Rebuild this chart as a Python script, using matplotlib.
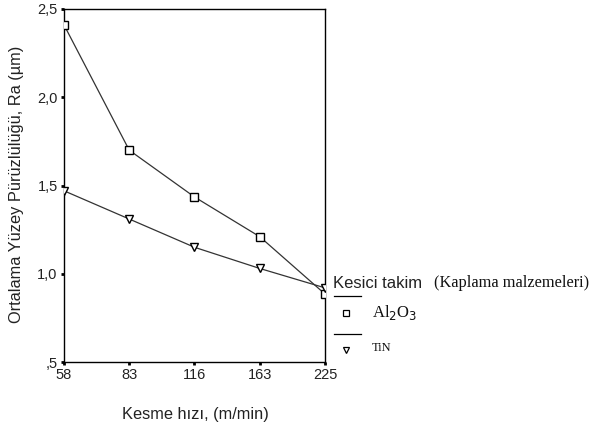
import matplotlib
matplotlib.use("Agg")
import matplotlib.pyplot as plt
from matplotlib.lines import Line2D

speeds = ["58", "83", "116", "163", "225"]
al2o3 = [2.41, 1.70, 1.435, 1.21, 0.885]
tin = [1.47, 1.31, 1.15, 1.03, 0.92]
yticks = [0.5, 1.0, 1.5, 2.0, 2.5]
ytick_labels = [",5", "1,0", "1,5", "2,0", "2,5"]

plt.rcParams['font.family'] = ['Liberation Sans', 'DejaVu Sans']

W, H = 591, 430
fig = plt.figure(figsize=(W / 100, H / 100), dpi=100)
ax = fig.add_axes([64 / W, 1 - 362 / H, (325 - 64) / W, (362 - 9) / H])

x = list(range(len(speeds)))
ax.plot(x, al2o3, color='#333333', lw=0.9, marker='s', ms=6, mfc='white', mec='black', mew=1.0, zorder=3)
ax.plot(x, tin, color='#333333', lw=0.9, marker='v', ms=6, mfc='white', mec='black', mew=1.0, zorder=3)

ax.set_xlim(0, len(speeds) - 1)
ax.set_ylim(0.5, 2.5)
ax.set_xticks(x)
ax.set_xticklabels(speeds)
ax.set_yticks(yticks)
ax.set_yticklabels(ytick_labels)
ax.tick_params(axis='both', direction='out', length=2.5, width=2, labelsize=10.5, colors='black', pad=2)
ax.tick_params(axis='both', labelcolor='#222222')
for s in ax.spines.values():
    s.set_linewidth(1.0)
    s.set_color('black')
for lab in ax.get_xticklabels() + ax.get_yticklabels():
    lab.set_clip_on(False)
ax.patch.set_alpha(0)

fig.text(17 / W, 1 - 184 / H, "Ortalama Yüzey Pürüzlülüğü, Ra (µm)", rotation=90,
         ha='center', va='center', fontsize=11.8, color='#222222')
fig.text(195 / W, 1 - 414 / H, "Kesme hızı, (m/min)", ha='center', va='center',
         fontsize=11.8, color='#222222')

# legend
fig.text(333 / W, 1 - 283 / H, "Kesici takim", ha='left', va='center', fontsize=12, color='#222222')
fig.text(434 / W, 1 - 283 / H, "(Kaplama malzemeleri)", ha='left', va='center', fontsize=11.8,
         family='Liberation Serif', color='#111111')
for yl in (296, 334):
    fig.add_artist(Line2D([334 / W, 361 / W], [1 - yl / H, 1 - yl / H], color='black', lw=0.9))
fig.add_artist(Line2D([346 / W], [1 - 313 / H], marker='s', ms=5, mfc='white', mec='black', mew=0.9, ls='none'))
fig.add_artist(Line2D([346 / W], [1 - 350 / H], marker='v', ms=5, mfc='white', mec='black', mew=0.9, ls='none'))
fig.text(372 / W, 1 - 313 / H, r"Al$_2$O$_3$", ha='left', va='center', fontsize=12,
         family='Liberation Serif', color='#111111')
fig.text(372 / W, 1 - 348 / H, "TiN", ha='left', va='center', fontsize=9,
         family='Liberation Serif', color='#111111')

fig.savefig("out.png", dpi=100)
